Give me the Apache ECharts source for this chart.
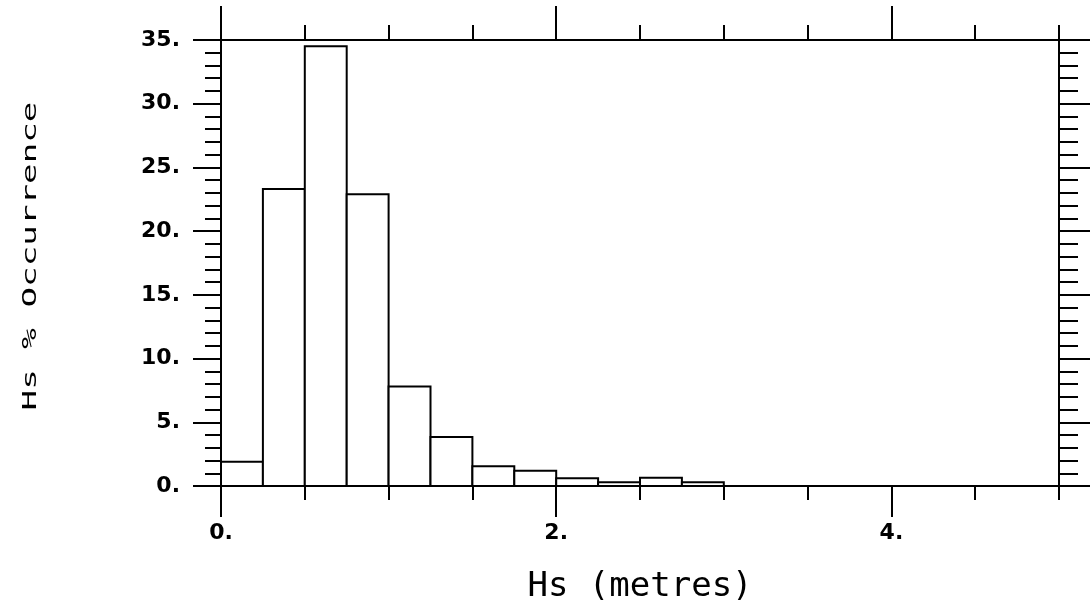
<!DOCTYPE html>
<html>
<head>
<meta charset="utf-8">
<script src="https://cdn.jsdelivr.net/npm/echarts@6/dist/echarts.min.js"></script>
<style>
  html, body { margin: 0; padding: 0; background: #fff; }
  #main { width: 1090px; height: 609px; }
</style>
</head>
<body>
<div id="main"></div>
<script>
// 直方图数据：Hs 分箱边界 (米) 和出现百分比
const binEdges = [0, 0.25, 0.5, 0.75, 1.0, 1.25, 1.5, 1.75, 2.0, 2.25, 2.5, 2.75, 3.0]
const occurrence = [1.9, 23.3, 34.5, 22.9, 7.8, 3.85, 1.55, 1.2, 0.6, 0.3, 0.65, 0.3]

// 刻度标签
const xLabelValues = [0, 2, 4]
const xLongTicks = [0, 2, 4]

const xTitle = 'Hs (metres)'
const yTitle = 'Hs % Occurrence'

const chart = echarts.init(document.getElementById('main'))

// 每个柱子: [左边界, 右边界, 数值]
const barData = occurrence.map((v, i) => [binEdges[i], binEdges[i + 1], v])

const black = '#000'
const gridRect = { left: 221, right: 31, top: 40, bottom: 119 }
const labelFont = { color: black, fontFamily: 'DejaVu Sans', fontWeight: 'bold', fontSize: 22 }
const axisLine = { show: true, onZero: false, lineStyle: { color: black, width: 2 } }

const option = {
  backgroundColor: '#fff',
  animation: false,
  // 两个相同位置的 grid，第二个只用来画长刻度
  grid: [
    { ...gridRect },
    { ...gridRect }
  ],
  xAxis: [
    {
      gridIndex: 0,
      type: 'value',
      position: 'bottom',
      min: 0,
      max: 5,
      interval: 0.5,
      axisLine: axisLine,
      axisTick: { show: true, length: 14, lineStyle: { color: black, width: 2 } },
      axisLabel: {
        ...labelFont,
        margin: 36,
        formatter: (v) => (xLabelValues.includes(v) ? v + '.' : '')
      },
      splitLine: { show: false },
      name: xTitle,
      nameLocation: 'middle',
      nameGap: 84,
      nameTextStyle: { color: black, fontFamily: 'DejaVu Sans Mono', fontSize: 34 }
    },
    {
      gridIndex: 0,
      type: 'value',
      position: 'top',
      min: 0,
      max: 5,
      interval: 0.5,
      axisLine: axisLine,
      axisTick: { show: true, length: 15, lineStyle: { color: black, width: 2 } },
      axisLabel: { show: false },
      splitLine: { show: false }
    },
    {
      gridIndex: 1,
      type: 'value',
      position: 'bottom',
      min: 0,
      max: 5,
      axisLine: { show: false, onZero: false },
      axisTick: { show: true, customValues: xLongTicks, length: 27, lineStyle: { color: black, width: 2 } },
      axisLabel: { show: false },
      splitLine: { show: false }
    },
    {
      gridIndex: 1,
      type: 'value',
      position: 'top',
      min: 0,
      max: 5,
      axisLine: { show: false, onZero: false },
      axisTick: { show: true, customValues: xLongTicks, length: 34, lineStyle: { color: black, width: 2 } },
      axisLabel: { show: false },
      splitLine: { show: false }
    }
  ],
  yAxis: [
    {
      gridIndex: 0,
      type: 'value',
      position: 'left',
      min: 0,
      max: 35,
      interval: 5,
      axisLine: axisLine,
      axisTick: { show: true, length: 28, lineStyle: { color: black, width: 2 } },
      minorTick: { show: true, splitNumber: 5, length: 16, lineStyle: { color: black, width: 2 } },
      axisLabel: { ...labelFont, margin: 41, formatter: (v) => v + '.' },
      splitLine: { show: false },
      minorSplitLine: { show: false }
    },
    {
      gridIndex: 0,
      type: 'value',
      position: 'right',
      min: 0,
      max: 35,
      interval: 5,
      axisLine: axisLine,
      axisTick: { show: true, length: 31, lineStyle: { color: black, width: 2 } },
      minorTick: { show: true, splitNumber: 5, length: 19, lineStyle: { color: black, width: 2 } },
      axisLabel: { show: false },
      splitLine: { show: false },
      minorSplitLine: { show: false }
    },
    {
      gridIndex: 1,
      type: 'value',
      min: 0,
      max: 35,
      show: false
    }
  ],
  // 纵轴标题（竖排，沿文字方向拉伸）
  graphic: [
    {
      type: 'text',
      x: 31,
      y: 256,
      rotation: Math.PI / 2,
      scaleX: 1.8,
      style: {
        text: yTitle,
        fill: black,
        font: '19px "DejaVu Sans Mono"',
        align: 'center',
        verticalAlign: 'middle'
      }
    }
  ],
  series: [
    {
      type: 'custom',
      xAxisIndex: 0,
      yAxisIndex: 0,
      data: barData,
      encode: { x: [0, 1], y: 2 },
      renderItem: (params, api) => {
        const topLeft = api.coord([api.value(0), api.value(2)])
        const bottomRight = api.coord([api.value(1), 0])
        return {
          type: 'rect',
          shape: {
            x: topLeft[0],
            y: topLeft[1],
            width: bottomRight[0] - topLeft[0],
            height: bottomRight[1] - topLeft[1]
          },
          style: { fill: '#fff', stroke: black, lineWidth: 2 }
        }
      }
    }
  ]
}

chart.setOption(option)
</script>
</body>
</html>
